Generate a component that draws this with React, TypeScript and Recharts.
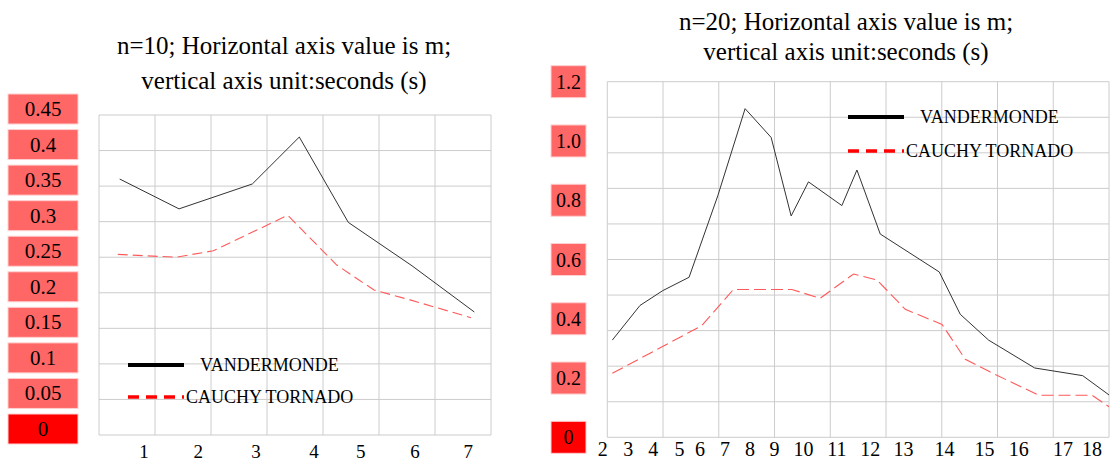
import React from 'react';
import { LineChart, Line, XAxis, YAxis, CartesianGrid, Legend } from 'recharts';

// ---------- n = 10 chart ----------
const n10GridX = [0, 1, 2, 3, 4, 5, 6, 7];
const n10XTickPos = [0.804, 1.773, 2.804, 3.839, 4.673, 5.643, 6.595];
const n10XTickLabels = ['1', '2', '3', '4', '5', '6', '7'];
const n10YTicks = [0, 0.05, 0.1, 0.15, 0.2, 0.25, 0.3, 0.35, 0.4, 0.45];
const n10YTickLabels = ['0', '0.05', '0.1', '0.15', '0.2', '0.25', '0.3', '0.35', '0.4', '0.45'];
const n10VandX = [0.369, 1.429, 2.738, 3.577, 4.452, 5.589, 6.702];
const n10VandY = [0.36, 0.318, 0.353, 0.419, 0.299, 0.238, 0.173];
const n10CauchyX = [0.334, 1.375, 2.041, 3.37, 4.245, 4.602, 4.911, 5.554, 6.643];
const n10CauchyY = [0.254, 0.25, 0.259, 0.309, 0.239, 0.22, 0.204, 0.19, 0.165];

// ---------- n = 20 chart ----------
const n20GridX = [0, 1, 2, 3, 4, 5, 6, 7, 8, 9];
const n20GridY = [0, 0.12, 0.24, 0.36, 0.48, 0.6, 0.72, 0.84, 0.96, 1.08, 1.2];
const n20XTickPos = [-0.083, 0.377, 0.826, 1.293, 1.664, 2.113, 2.562, 2.998, 3.519, 4.118, 4.716, 5.314, 6.05, 6.768, 7.379, 8.176, 8.697];
const n20XTickLabels = ['2', '3', '4', '5', '6', '7', '8', '9', '10', '11', '12', '13', '14', '15', '16', '17', '18'];
const n20YTicks = [0, 0.2, 0.4, 0.6, 0.8, 1.0, 1.2];
const n20YTickLabels = ['0', '0.2', '0.4', '0.6', '0.8', '1.0', '1.2'];
const n20VandX = [0.09, 0.587, 0.995, 1.467, 1.982, 2.472, 2.939, 3.298, 3.609, 4.208, 4.478, 4.896, 5.955, 6.332, 6.84, 7.666, 8.528, 9.0];
const n20VandY = [0.328, 0.445, 0.495, 0.54, 0.815, 1.109, 1.012, 0.747, 0.862, 0.782, 0.902, 0.686, 0.558, 0.415, 0.328, 0.234, 0.208, 0.143];
const n20CauchyX = [0.09, 1.695, 2.262, 3.311, 3.819, 4.417, 4.837, 5.345, 6.004, 6.422, 6.871, 7.738, 8.697, 9.0];
const n20CauchyY = [0.216, 0.377, 0.499, 0.499, 0.469, 0.551, 0.531, 0.432, 0.381, 0.263, 0.22, 0.142, 0.142, 0.103];

const SERIES_V = 'VANDERMONDE';
const SERIES_C = 'CAUCHY TORNADO';
const seriesOrder = [SERIES_V, SERIES_C];

const toPoints = (xs: number[], ys: number[]) => xs.map((x, i) => ({ x, v: ys[i] }));

const FONT = '"Liberation Serif", "Times New Roman", serif';

const legendStyle: Record<string, { color: string; dash?: string; width: number; gap: number }> = {
  [SERIES_V]: { color: '#000000', width: 4, gap: 16 },
  [SERIES_C]: { color: '#ff0000', dash: '11 7', width: 3.5, gap: 2 },
};

function LegendBlock(props: any) {
  const { payload, rowH } = props;
  const items = [...(payload || [])].sort(
    (a: any, b: any) => seriesOrder.indexOf(a.value) - seriesOrder.indexOf(b.value)
  );
  return (
    <div style={{ fontFamily: FONT, fontSize: 18, color: '#000' }}>
      {items.map((p: any) => {
        const s = legendStyle[p.value];
        return (
          <div key={p.value} style={{ display: 'flex', alignItems: 'center', height: rowH, whiteSpace: 'nowrap' }}>
            <svg width={56} height={10} style={{ display: 'block' }}>
              <line x1={0} y1={5} x2={56} y2={5} stroke={s.color} strokeWidth={s.width} strokeDasharray={s.dash} />
            </svg>
            <span style={{ marginLeft: s.gap, lineHeight: 1 }}>{p.value}</span>
          </div>
        );
      })}
    </div>
  );
}

function BoxTick(props: any) {
  const { y, payload, boxX, boxW, boxH, dy, fontSize, values, labels } = props;
  const i = values.indexOf(payload.value);
  if (i < 0) return null;
  const cy = y + dy;
  const fill = payload.value === 0 ? '#ff0000' : '#ff6666';
  return (
    <g>
      <rect x={boxX} y={cy - boxH / 2} width={boxW} height={boxH} fill={fill} stroke="#ffd0d0" strokeWidth={1} />
      <text x={boxX + boxW / 2} y={cy} textAnchor="middle" dominantBaseline="central" fontSize={fontSize} fontFamily={FONT} fill="#000">
        {labels[i]}
      </text>
    </g>
  );
}

function XTick(props: any) {
  const { x, y, payload, values, labels, fontSize, dy } = props;
  const i = values.indexOf(payload.value);
  if (i < 0) return null;
  return (
    <text x={x} y={y + dy} textAnchor="middle" dominantBaseline="central" fontSize={fontSize} fontFamily={FONT} fill="#000">
      {labels[i]}
    </text>
  );
}

const hLine = { stroke: '#b4b4b4', strokeWidth: 1.3 };
const vLine = { stroke: '#cbcbcb', strokeWidth: 2 };

function LeftChart() {
  return (
    <LineChart width={500} height={461} margin={{ top: 115, right: 9, bottom: 0, left: 8 }}>
      <XAxis
        xAxisId="lab"
        type="number"
        dataKey="x"
        domain={[0, 7]}
        ticks={n10XTickPos}
        interval={0}
        height={26}
        axisLine={false}
        tickLine={false}
        tick={(p: any) => <XTick {...p} values={n10XTickPos} labels={n10XTickLabels} fontSize={19} dy={8} />}
      />
      <YAxis
        yAxisId="y"
        type="number"
        domain={[0, 0.45]}
        ticks={n10YTicks}
        interval={0}
        width={91}
        axisLine={false}
        tickLine={false}
        tick={(p: any) => (
          <BoxTick {...p} boxX={8} boxW={70} boxH={30} dy={-6} fontSize={21} values={n10YTicks} labels={n10YTickLabels} />
        )}
      />
      <CartesianGrid
        xAxisId="lab"
        yAxisId="y"
        verticalValues={n10GridX}
        horizontalValues={n10YTicks}
        horizontal={hLine}
        vertical={vLine}
      />
      <Line
        xAxisId="lab"
        yAxisId="y"
        name={SERIES_V}
        data={toPoints(n10VandX, n10VandY)}
        dataKey="v"
        stroke="#333333"
        strokeWidth={1}
        dot={false}
        activeDot={false}
        isAnimationActive={false}
      />
      <Line
        xAxisId="lab"
        yAxisId="y"
        name={SERIES_C}
        data={toPoints(n10CauchyX, n10CauchyY)}
        dataKey="v"
        stroke="#ff5a5a"
        strokeWidth={1.1}
        strokeDasharray="10 5"
        dot={false}
        activeDot={false}
        isAnimationActive={false}
      />
      <Legend
        layout="vertical"
        align="center"
        verticalAlign="middle"
        content={(p: any) => <LegendBlock {...p} rowH={32} />}
        wrapperStyle={{ left: 128, top: 349, right: 'auto', bottom: 'auto', width: 300, height: 'auto' }}
      />
    </LineChart>
  );
}

function RightChart() {
  return (
    <LineChart width={575} height={461} margin={{ top: 81.7, right: 6, bottom: 0, left: 0 }}>
      <XAxis
        xAxisId="lab"
        type="number"
        dataKey="x"
        domain={[0, 9]}
        ticks={n20XTickPos}
        interval={0}
        height={23.7}
        axisLine={false}
        tickLine={false}
        allowDataOverflow
        tick={(p: any) => <XTick {...p} values={n20XTickPos} labels={n20XTickLabels} fontSize={20} dy={4} />}
      />
      <YAxis
        yAxisId="y"
        type="number"
        domain={[0, 1.2]}
        ticks={n20YTicks}
        interval={0}
        width={67.3}
        axisLine={false}
        tickLine={false}
        tick={(p: any) => (
          <BoxTick {...p} boxX={11} boxW={35} boxH={32} dy={0} fontSize={20} values={n20YTicks} labels={n20YTickLabels} />
        )}
      />
      <CartesianGrid
        xAxisId="lab"
        yAxisId="y"
        verticalValues={n20GridX}
        horizontalValues={n20GridY}
        horizontal={hLine}
        vertical={vLine}
      />
      <Line
        xAxisId="lab"
        yAxisId="y"
        name={SERIES_V}
        data={toPoints(n20VandX, n20VandY)}
        dataKey="v"
        stroke="#333333"
        strokeWidth={1}
        dot={false}
        activeDot={false}
        isAnimationActive={false}
      />
      <Line
        xAxisId="lab"
        yAxisId="y"
        name={SERIES_C}
        data={toPoints(n20CauchyX, n20CauchyY)}
        dataKey="v"
        stroke="#ff5a5a"
        strokeWidth={1.1}
        strokeDasharray="12 5"
        dot={false}
        activeDot={false}
        isAnimationActive={false}
      />
      <Legend
        layout="vertical"
        align="center"
        verticalAlign="middle"
        content={(p: any) => <LegendBlock {...p} rowH={34} />}
        wrapperStyle={{ left: 308, top: 100, right: 'auto', bottom: 'auto', width: 300, height: 'auto' }}
      />
    </LineChart>
  );
}

export default function App() {
  return (
    <div style={{ position: 'absolute', left: 0, top: 0, width: 1115, height: 461, background: '#fff', overflow: 'hidden' }}>
      <div style={{ position: 'absolute', left: 0, top: 0 }}>
        <LeftChart />
      </div>
      <div style={{ position: 'absolute', left: 540, top: 0 }}>
        <RightChart />
      </div>
      <div
        style={{
          position: 'absolute',
          left: 284 - 250,
          top: 27.5,
          width: 500,
          textAlign: 'center',
          fontFamily: FONT,
          fontSize: 25,
          lineHeight: '35px',
          color: '#000',
        }}
      >
        n=10; Horizontal axis value is m;
        <br />
        vertical axis unit:seconds (s)
      </div>
      <div
        style={{
          position: 'absolute',
          left: 846 - 250,
          top: 6.7,
          width: 500,
          textAlign: 'center',
          fontFamily: FONT,
          fontSize: 25,
          lineHeight: '30px',
          color: '#000',
        }}
      >
        n=20; Horizontal axis value is m;
        <br />
        vertical axis unit:seconds (s)
      </div>
    </div>
  );
}
